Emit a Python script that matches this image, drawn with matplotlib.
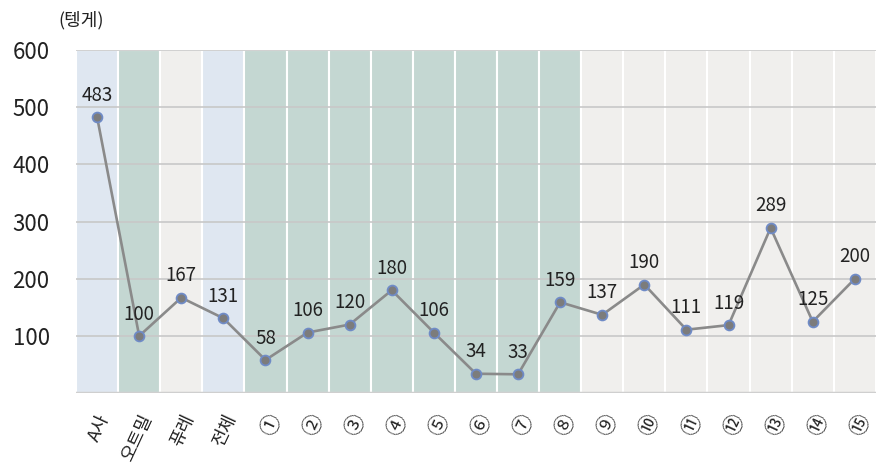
import numpy as np
import matplotlib.pyplot as plt
from matplotlib.transforms import ScaledTranslation

plt.rcParams['font.family'] = ['Noto Sans CJK KR', 'DejaVu Sans']

labels = ['A사', '오트밀', '퓨레', '전체',
          '①', '②', '③', '④', '⑤', '⑥', '⑦', '⑧',
          '⑨', '⑩', '⑪', '⑫', '⑬', '⑭', '⑮']
prices = [483, 100, 167, 131, 58, 106, 120, 180, 106, 34, 33, 159,
          137, 190, 111, 119, 289, 125, 200]
groups = ['company', 'oat', 'puree', 'company'] + ['oat'] * 8 + ['puree'] * 7

band_colors = {'company': '#dfe7f1', 'oat': '#c4d7d2', 'puree': '#f0efed'}

fig = plt.figure(figsize=(8.77, 4.72), dpi=100)
ax = fig.add_axes([0.0867, 0.167, 0.912, 0.727])

x = np.arange(len(labels))
ymax = 600
ax.bar(x, ymax, width=1.0, color=[band_colors[g] for g in groups],
       edgecolor='white', linewidth=1.5, zorder=0)

for y in range(100, 601, 100):
    ax.axhline(y, color='#c8c8c8', linewidth=1.2, zorder=1)
ax.axhline(0, color='#cfcfcf', linewidth=2.5, zorder=1)

ax.plot(x, prices, color='#8a8a8a', linewidth=1.9, zorder=2)
ax.scatter(x, prices, s=50, color='#7c7c7c', edgecolor='#6f8bc6',
           linewidth=1.3, zorder=3)

for xi, v in zip(x, prices):
    ax.text(xi, v + 20, str(v), ha='center', va='bottom', fontsize=13.5,
            color='#222222')

ax.set_xlim(-0.5, len(labels) - 0.5)
ax.set_ylim(0, ymax)
ax.set_yticks(range(100, 601, 100))
ax.set_yticklabels([str(v) for v in range(100, 601, 100)], fontsize=16,
                   color='#222222')
ax.set_xticks(x)
ax.set_xticklabels(labels, rotation=65, fontsize=13, ha='right',
                   rotation_mode='anchor', color='#222222')
shift = ScaledTranslation(-6 / 72, 0, fig.dpi_scale_trans)
for lab in ax.get_xticklabels():
    lab.set_transform(lab.get_transform() + shift)
    if len(lab.get_text()) == 1:
        lab.set_fontsize(15)
ax.tick_params(length=0)
ax.tick_params(axis='y', pad=19)
ax.tick_params(axis='x', pad=13)
for s in ax.spines.values():
    s.set_visible(False)

fig.text(0.066, 0.958, '(텡게)', fontsize=13, color='#222222', va='center')

fig.savefig('out.png', dpi=100)
